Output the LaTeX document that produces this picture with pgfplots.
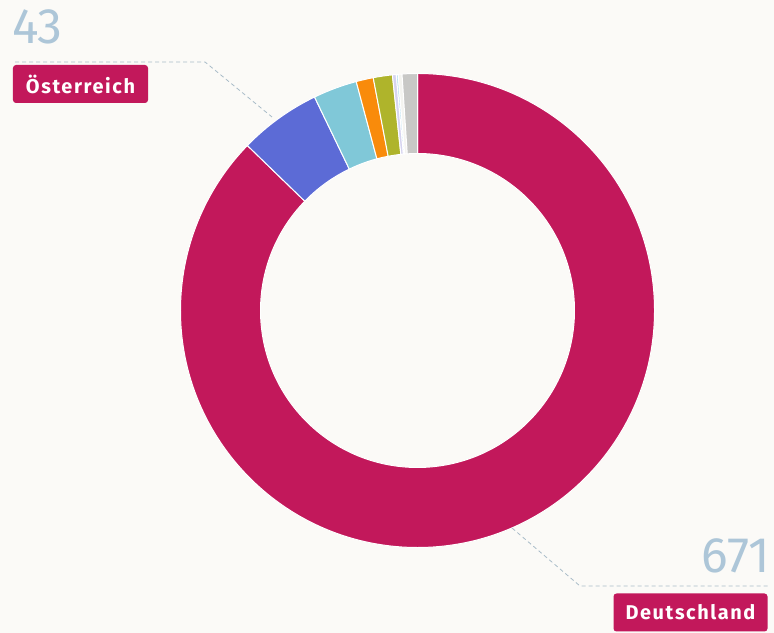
\documentclass[border=0pt]{standalone}
\usepackage{pgfplots}
\pgfplotsset{compat=1.18}
\usepackage{pgfplotstable}
\usepackage{fontspec}
\setmainfont{Fira Sans}
\newfontfamily\labelfont[LetterSpace=8]{Fira Sans}

\definecolor{bg}{HTML}{FBFAF7}
\definecolor{crimson}{HTML}{C2185B}
\definecolor{numcol}{HTML}{ADC6D8}
\definecolor{leader}{HTML}{A9BCC8}
% slice colours, in the order of the table
\definecolor{c0}{HTML}{C2185B}
\definecolor{c1}{HTML}{5C6BD6}
\definecolor{c2}{HTML}{80C8D8}
\definecolor{c3}{HTML}{F98B0B}
\definecolor{c4}{HTML}{AFB42B}
\definecolor{c5}{HTML}{D6D4F0}
\definecolor{c6}{HTML}{B3DDF0}
\definecolor{c7}{HTML}{F4F4F0}
\definecolor{c8}{HTML}{C8C8C6}

% Deutschland, Österreich, then the small countries
\pgfplotstableread{
value
671
43
23
9
10
2
1
2
8
}\slices

\pgfplotstablegetrowsof{\slices}
\pgfmathtruncatemacro\lastrow{\pgfplotsretval-1}
\xdef\total{0}
\pgfplotsinvokeforeach{0,...,\lastrow}{%
  \pgfplotstablegetelem{#1}{value}\of\slices
  \pgfmathsetmacro\tmp{\total+\pgfplotsretval}%
  \xdef\total{\tmp}%
}

\def\cx{417.5}
\def\cy{322.5}
\def\Ro{237}
\def\Ri{157}

\begin{document}
\begin{tikzpicture}
\begin{axis}[x=1bp, y=1bp, xmin=0, xmax=774, ymin=0, ymax=633,
             hide axis, clip=false]
  \fill[bg] (axis cs:0,0) rectangle (axis cs:774,633);

  \xdef\cum{0}
  \pgfplotsinvokeforeach{0,...,\lastrow}{%
    \pgfplotstablegetelem{#1}{value}\of\slices
    \pgfmathsetmacro\aone{90-\cum/\total*360}%
    \pgfmathsetmacro\tmp{\cum+\pgfplotsretval}%
    \xdef\cum{\tmp}%
    \pgfmathsetmacro\atwo{90-\cum/\total*360}%
    \edef\doslice{\noexpand\fill[c#1, draw=white, line width=1pt]
      (axis cs:{\cx+\Ro*cos(\aone)},{\cy+\Ro*sin(\aone)})
      arc[start angle=\aone, end angle=\atwo, radius=\Ro bp]
      -- (axis cs:{\cx+\Ri*cos(\atwo)},{\cy+\Ri*sin(\atwo)})
      arc[start angle=\atwo, end angle=\aone, radius=\Ri bp] -- cycle;}%
    \doslice
  }

  % leader lines
  \draw[leader, line width=0.8bp, dash pattern=on 4bp off 3bp]
    (axis cs:15,571) -- (axis cs:205,571) -- (axis cs:272,516);
  \draw[leader, line width=0.8bp, dash pattern=on 4bp off 3bp]
    (axis cs:512,105) -- (axis cs:580,47) -- (axis cs:770,47);

  % values and labels
  \node[anchor=base west, inner sep=0, text=numcol, font=\fontsize{50}{50}\selectfont]
    at (axis cs:12,589) {43};
  \node[fill=crimson, text=white, rounded corners=3bp, minimum width=135bp,
        minimum height=38bp, inner sep=0, font=\labelfont\bfseries\fontsize{20}{20}\selectfont]
    at (axis cs:80.5,549) {Österreich};
  \node[anchor=base east, inner sep=0, text=numcol, font=\fontsize{50}{50}\selectfont]
    at (axis cs:770,60) {671};
  \node[fill=crimson, text=white, rounded corners=3bp, minimum width=154bp,
        minimum height=38bp, inner sep=0, font=\labelfont\bfseries\fontsize{20}{20}\selectfont]
    at (axis cs:690.5,20.5) {Deutschland};
\end{axis}
\end{tikzpicture}
\end{document}
